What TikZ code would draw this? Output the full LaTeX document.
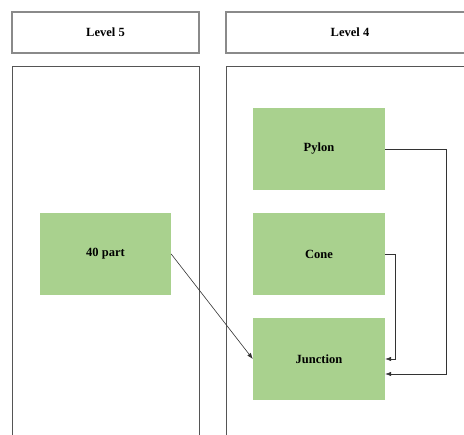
\documentclass[tikz,border=0pt]{standalone}
\usepackage{fontspec}
\setmainfont{Liberation Serif}
\usetikzlibrary{arrows.meta}
\definecolor{boxgreen}{HTML}{A9D18E}
\definecolor{hdrline}{HTML}{8A8A8A}
\definecolor{panelline}{HTML}{555555}
\definecolor{arrline}{HTML}{333333}
\tikzset{
  header/.style={draw=hdrline, line width=1.2pt, fill=white, minimum height=41pt, font=\bfseries\fontsize{12.5}{14}\selectfont, inner sep=0pt},
  panel/.style={draw=panelline, line width=0.9pt},
  gbox/.style={fill=boxgreen, draw=none, minimum width=132pt, minimum height=82pt, font=\bfseries\fontsize{12.5}{14}\selectfont, inner sep=0pt},
  conn/.style={draw=arrline, line width=0.6pt, -{Latex[length=6pt,width=4.5pt]}},
}
\begin{document}
\begin{tikzpicture}[x=1pt,y=1pt]
\useasboundingbox (0,0) rectangle (464,-435);
\clip (0,0) rectangle (464,-435);
% headers
\node[header, minimum width=187pt] (h5) at (105.5,-32.5) {Level 5};
\node[header, minimum width=248pt] (h4) at (350,-32.5) {Level 4};
% panels
\draw[panel] (12,-445) -- (12,-66) -- (199,-66) -- (199,-445);
\draw[panel] (226,-445) -- (226,-66) -- (480,-66);
% boxes
\node[gbox] (pylon) at (319,-149) {Pylon};
\node[gbox] (cone) at (319,-254) {Cone};
\node[gbox] (junction) at (319,-359) {Junction};
\node[gbox, minimum width=131pt] (part) at (105.5,-254) {40 part};
% connectors
\draw[conn] (part.east) -- (junction.west);
\draw[conn] (cone.east) -- ++(10,0) |- (junction.east);
\draw[conn] (pylon.east) -- (446,-149) |- ([yshift=-15pt]junction.east);
\end{tikzpicture}
\end{document}
